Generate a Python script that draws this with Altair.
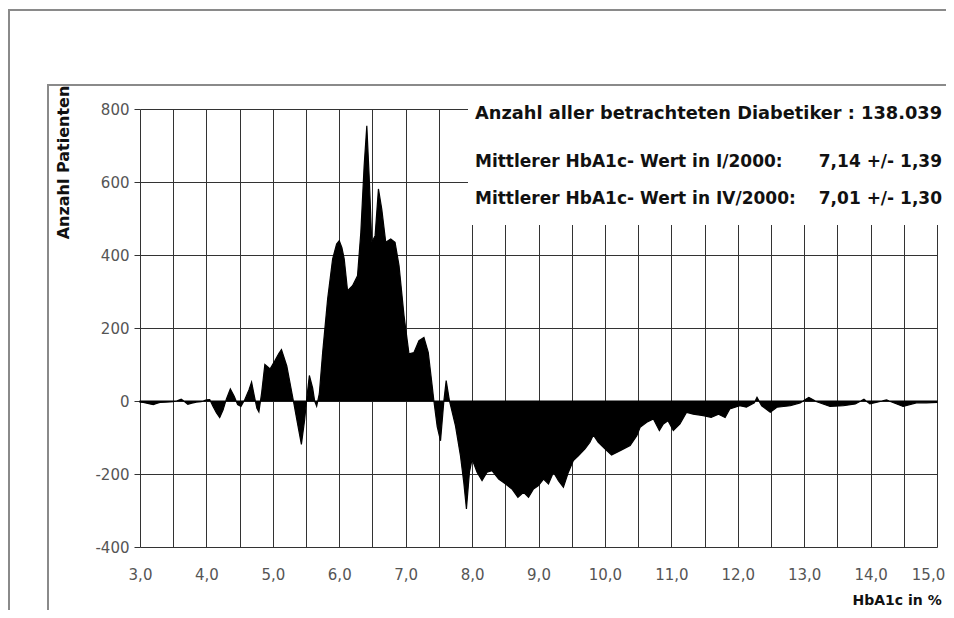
import altair as alt
import pandas as pd

# HbA1c value (%) and difference in patient counts
hba1c = [3.00, 3.05, 3.10, 3.15, 3.20, 3.25, 3.30, 3.40, 3.50, 3.55, 3.62, 3.66, 3.72, 3.78, 3.85, 3.92,
         4.00, 4.05, 4.10, 4.15, 4.20, 4.25, 4.30, 4.36, 4.42, 4.47, 4.52, 4.58, 4.64, 4.68, 4.72, 4.76,
         4.79, 4.83, 4.88, 4.96, 5.03, 5.09, 5.13, 5.21, 5.31, 5.37, 5.43, 5.48, 5.51, 5.55, 5.60, 5.63,
         5.66, 5.70, 5.75, 5.825, 5.90, 5.96, 6.00, 6.04, 6.075, 6.125, 6.20, 6.275, 6.325, 6.375, 6.415,
         6.45, 6.49, 6.54, 6.59, 6.64, 6.70, 6.775, 6.84, 6.90, 6.975, 7.05, 7.125, 7.20, 7.275, 7.34,
         7.40, 7.425, 7.475, 7.525, 7.575, 7.61, 7.66, 7.75, 7.825, 7.875, 7.915, 7.96, 8.00, 8.075,
         8.15, 8.225, 8.30, 8.40, 8.50, 8.60, 8.69, 8.775, 8.85, 8.925, 9.00, 9.075, 9.15, 9.225, 9.30,
         9.375, 9.45, 9.525, 9.60, 9.70, 9.775, 9.825, 9.90, 10.00, 10.10, 10.23, 10.38, 10.48, 10.53,
         10.63, 10.73, 10.82, 10.88, 10.95, 11.03, 11.13, 11.23, 11.33, 11.48, 11.60, 11.71, 11.81,
         11.88, 12.03, 12.13, 12.25, 12.29, 12.36, 12.49, 12.59, 12.79, 12.94, 13.07, 13.19, 13.39,
         13.59, 13.77, 13.90, 13.99, 14.24, 14.49, 14.69, 14.84, 15.00]
patients = [-3, -4, -6, -8, -10, -7, -4, -3, -2, 0, 5, 0, -9, -6, -3, -2,
            3, 4, -15, -32, -45, -25, 5, 33, 12, -10, -15, 5, 30, 52, 15, -20,
            -30, 20, 100, 88, 110, 130, 141, 96, 0, -60, -119, -50, 5, 70, 35, 0,
            -14, 20, 133, 279, 389, 430, 439, 420, 389, 302, 316, 343, 462, 645, 754,
            617, 435, 453, 581, 526, 435, 444, 435, 371, 234, 129, 133, 165, 174, 133,
            40, 0, -70, -109, 0, 56, 0, -68, -150, -223, -296, -195, -159, -195,
            -218, -195, -191, -214, -227, -241, -264, -250, -264, -241, -232, -214, -227, -195, -218,
            -236, -195, -163, -150, -131, -113, -93, -113, -131, -148, -136, -122, -95, -72,
            -58, -49, -81, -63, -54, -81, -63, -31, -36, -40, -45, -36, -45,
            -22, -13, -17, -5, 10, -13, -31, -17, -13, -5, 10, -2, -15,
            -13, -8, 5, -8, 3, -15, -5, -5, -4]

x_grid_values = [3.0 + 0.5 * i for i in range(25)]
y_tick_values = [-400, -200, 0, 200, 400, 600, 800]

info_line1 = "Anzahl aller betrachteten Diabetiker : 138.039"
info_labels = ["Mittlerer HbA1c- Wert in I/2000:", "Mittlerer HbA1c- Wert in IV/2000:"]
info_values = ["7,14 +/- 1,39", "7,01 +/- 1,30"]
x_title = "HbA1c in %"
y_title = "Anzahl Patienten"

df = pd.DataFrame({"x": hba1c, "y": patients})
one = pd.DataFrame({"d": [0]})

FONT = "DejaVu Sans"

area = alt.Chart(df).mark_area(
    color="black", stroke="black", strokeWidth=1.2, interpolate="linear"
).encode(
    x=alt.X("x:Q",
            scale=alt.Scale(domain=[3, 15], nice=False, zero=False),
            axis=alt.Axis(values=x_grid_values, grid=True, gridColor="#333", gridWidth=1,
                          gridOpacity=1, ticks=False, domain=False,
                          labelExpr="datum.value % 1 == 0 ? replace(format(datum.value, '.1f'), '.', ',') : ''",
                          labelOffset=alt.ExprRef(expr="datum.value == 15 ? -9 : 0"),
                          labelFont=FONT, labelFontSize=15, labelColor="#555", labelPadding=20,
                          labelFlush=False, labelOverlap=False,
                          title=x_title, titleFont=FONT, titleFontSize=14, titleFontWeight="bold",
                          titleColor="#111", titleX=712, titleY=53, titleAlign="left",
                          titleBaseline="middle", titleAnchor="start")),
    y=alt.Y("y:Q", stack=None,
            scale=alt.Scale(domain=[-400, 800], nice=False),
            axis=alt.Axis(values=y_tick_values, grid=True, gridColor="#333", gridWidth=1,
                          gridOpacity=1, ticks=True, tickSize=6, tickColor="#333", domain=False,
                          labelExpr="'' + datum.value",
                          labelFont=FONT, labelFontSize=15, labelColor="#555",
                          labelPadding=5, labelFlush=False, labelOverlap=False,
                          title=y_title, titleFont=FONT, titleFontSize=16, titleFontWeight="bold",
                          titleColor="#111", titleX=-77, titleY=53, titleAngle=270,
                          titleAlign="center", titleBaseline="middle")),
)

box = alt.Chart(one).mark_rect(color="white").encode(
    x=alt.value(328), x2=alt.value(806), y=alt.value(-14), y2=alt.value(116))

frame_color = "#8a8a8a"
outer_top = alt.Chart(one).mark_rule(color=frame_color, strokeWidth=2).encode(
    x=alt.value(-132), x2=alt.value(806), y=alt.value(-99))
outer_left = alt.Chart(one).mark_rule(color=frame_color, strokeWidth=2).encode(
    x=alt.value(-131), y=alt.value(-100), y2=alt.value(520))
inner_top = alt.Chart(one).mark_rule(color=frame_color, strokeWidth=2).encode(
    x=alt.value(-92), x2=alt.value(806), y=alt.value(-24))
inner_left = alt.Chart(one).mark_rule(color=frame_color, strokeWidth=2).encode(
    x=alt.value(-92), y=alt.value(-25), y2=alt.value(520))

txt_style = dict(font=FONT, fontWeight="bold", color="#111", baseline="middle")
t1 = alt.Chart(one).mark_text(align="left", fontSize=17.8, **txt_style).encode(
    x=alt.value(335), y=alt.value(5), text=alt.value(info_line1))
t2 = alt.Chart(one).mark_text(align="left", fontSize=17, **txt_style).encode(
    x=alt.value(335), y=alt.value(53), text=alt.value(info_labels[0]))
t3 = alt.Chart(one).mark_text(align="left", fontSize=17, **txt_style).encode(
    x=alt.value(335), y=alt.value(90), text=alt.value(info_labels[1]))
v2 = alt.Chart(one).mark_text(align="right", fontSize=17, **txt_style).encode(
    x=alt.value(802), y=alt.value(53), text=alt.value(info_values[0]))
v3 = alt.Chart(one).mark_text(align="right", fontSize=17, **txt_style).encode(
    x=alt.value(802), y=alt.value(90), text=alt.value(info_values[1]))

chart = alt.layer(
    area, box, outer_top, outer_left, inner_top, inner_left, t1, t2, t3, v2, v3
).properties(
    width=797, height=438,
    autosize=alt.AutoSizeParams(type="none"),
    padding={"left": 132, "top": 101, "right": 9, "bottom": 63},
    background="white",
).configure_view(strokeWidth=0)

chart.save("out.html", embed_options={"renderer": "svg", "actions": False})
